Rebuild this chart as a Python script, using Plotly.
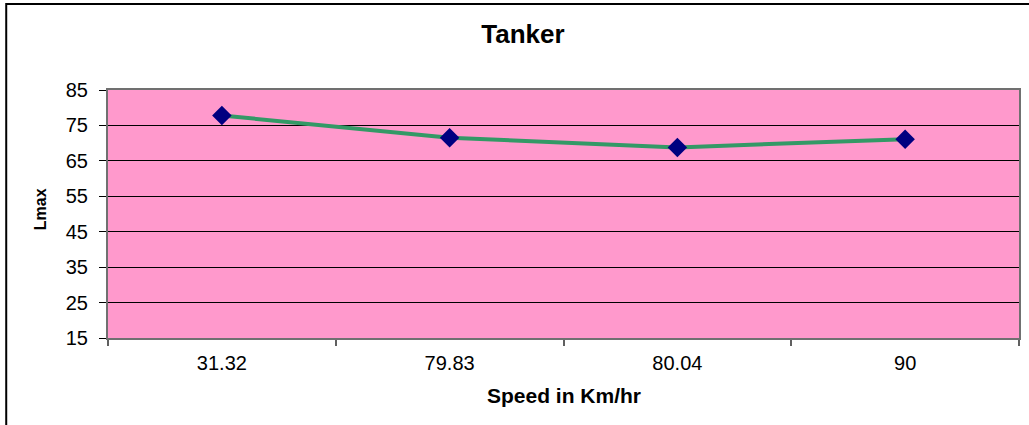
import plotly.graph_objects as go

speeds = ["31.32", "79.83", "80.04", "90"]
lmax = [77.8, 71.5, 68.8, 71.1]
y_ticks = [15, 25, 35, 45, 55, 65, 75, 85]

W, H = 1029, 425
# plot area in screen coordinates: x 108..1021, y 90..338
L, T = 108, 90
R = W - 1021
B = H - 338
pw, ph = W - L - R, H - T - B

def px(x):
    return (x - L) / pw

def py(y):
    return (H - B - y) / ph

FONT = "Liberation Sans, Arial, sans-serif"

fig = go.Figure()
fig.add_trace(go.Scatter(
    x=speeds, y=lmax, mode="lines+markers",
    line=dict(color="#339966", width=4),
    marker=dict(symbol="diamond", size=15, color="#000080",
                line=dict(width=0)),
    showlegend=False, cliponaxis=False,
))

fig.update_layout(
    width=W, height=H,
    margin=dict(l=L, r=R, t=T, b=B),
    paper_bgcolor="white", plot_bgcolor="#FF99CC",
    font=dict(family=FONT, color="black"),
    title=dict(text="<b>Tanker</b>", x=523 / W, xanchor="center",
               y=1 - 34 / H, yanchor="middle",
               font=dict(size=26, family=FONT, color="black")),
    shapes=[dict(type="rect", xref="paper", yref="paper",
                 x0=px(6), x1=px(1045), y0=py(445), y1=py(4),
                 line=dict(color="black", width=2), layer="below")],
    annotations=[
        dict(text="<b>Lmax</b>", xref="paper", yref="paper",
             x=px(40), y=py(209), textangle=-90, showarrow=False,
             xanchor="center", yanchor="middle",
             font=dict(size=16, family=FONT, color="black")),
        dict(text="<b>Speed in Km/hr</b>", xref="paper", yref="paper",
             x=px(565), y=py(395), showarrow=False,
             xanchor="center", yanchor="middle",
             font=dict(size=21, family=FONT, color="black")),
    ],
)

fig.update_xaxes(
    type="category", range=[-0.5, 3.5], tickson="boundaries",
    ticks="outside", ticklen=6, tickwidth=2, tickcolor="#606060",
    showgrid=False, showline=True, linecolor="#707070", linewidth=2,
    mirror=True, tickfont=dict(size=20, family=FONT, color="black"),
    ticklabelstandoff=6,
)
fig.update_yaxes(
    range=[15, 85], tickvals=y_ticks, ticks="outside", ticklen=7,
    tickwidth=1, tickcolor="black",
    showgrid=True, gridcolor="black", gridwidth=1,
    showline=True, linecolor="#707070", linewidth=2, mirror=True,
    zeroline=False,
    tickfont=dict(size=20, family=FONT, color="black"),
    ticklabelstandoff=7,
)

fig.write_html(
    "out.html",
    config={"displayModeBar": False},
    post_script="document.body.style.margin='0';"
                "document.body.style.overflow='hidden';",
)
